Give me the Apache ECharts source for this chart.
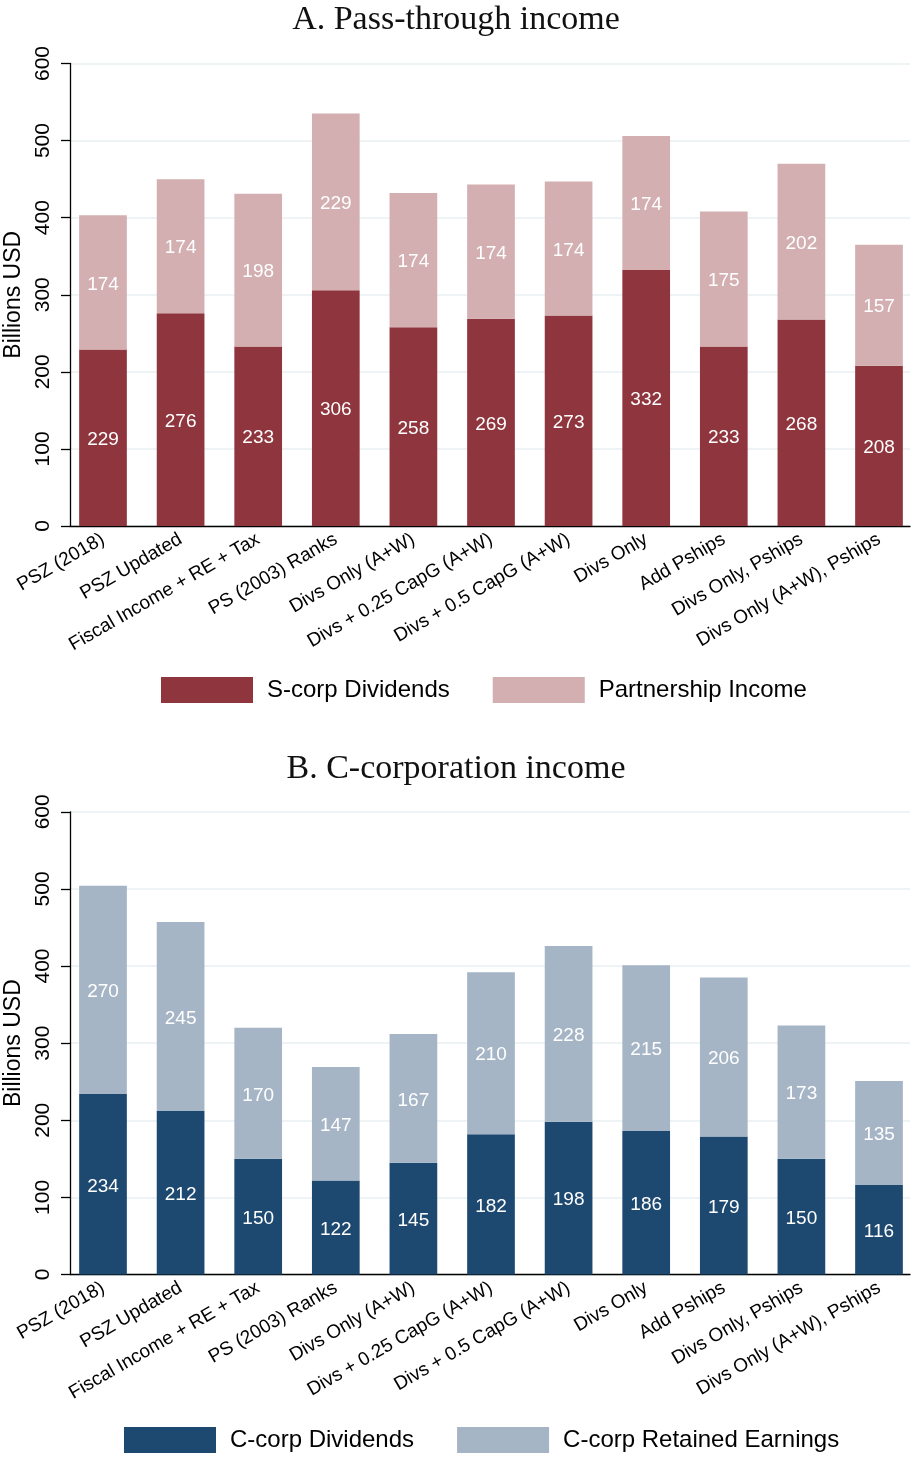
<!DOCTYPE html>
<html>
<head>
<meta charset="utf-8">
<script src="https://cdn.jsdelivr.net/npm/echarts@6/dist/echarts.min.js"></script>
<style>
  html, body { margin: 0; padding: 0; background: #fff; }
  #chart { width: 912px; height: 1459px; }
</style>
</head>
<body>
<div id="chart"></div>
<script>
// Method labels shared by both panels
const categories = [
  'PSZ (2018)', 'PSZ Updated', 'Fiscal Income + RE + Tax', 'PS (2003) Ranks',
  'Divs Only (A+W)', 'Divs + 0.25 CapG (A+W)', 'Divs + 0.5 CapG (A+W)',
  'Divs Only', 'Add Pships', 'Divs Only, Pships', 'Divs Only (A+W), Pships'
];

// Panel A: pass-through income (billions USD)
const sCorpDividends = [229, 276, 233, 306, 258, 269, 273, 332, 233, 268, 208];
const partnershipIncome = [174, 174, 198, 229, 174, 174, 174, 174, 175, 202, 157];

// Panel B: C-corporation income (billions USD)
const cCorpDividends = [234, 212, 150, 122, 145, 182, 198, 186, 179, 150, 116];
const cCorpRetained = [270, 245, 170, 147, 167, 210, 228, 215, 206, 173, 135];

const yTicks = [0, 100, 200, 300, 400, 500, 600];

const SANS = 'Liberation Sans, Arial, Helvetica, sans-serif';
const SERIF = 'Liberation Serif, Times New Roman, serif';

const panels = [
  { top: 63.5, height: 462.5 },
  { top: 811.8, height: 462.7 }
];

const grids = [];
const xAxes = [];
const yAxes = [];
panels.forEach(p => {
  // axis frame grid (y axis, gridlines, baseline)
  grids.push({ left: 70, width: 840, top: p.top, height: p.height, outerBoundsMode: 'none', containLabel: false });
  // bar grid (category slots)
  grids.push({ left: 64.2, width: 853.6, top: p.top, height: p.height, outerBoundsMode: 'none', containLabel: false });
});

for (let k = 0; k < 2; k++) {
  const gFrame = k * 2, gBars = k * 2 + 1;
  xAxes.push({
    gridIndex: gFrame, type: 'category', data: categories,
    axisLine: { show: true, lineStyle: { color: '#000', width: 1.3 } },
    axisTick: { show: false }, axisLabel: { show: false }, splitLine: { show: false }
  });
  xAxes.push({
    gridIndex: gBars, type: 'category', data: categories,
    axisLine: { show: false }, axisTick: { show: false },
    axisLabel: {
      rotate: 30, interval: 0, margin: 12,
      fontFamily: SANS, fontSize: 19, color: '#000'
    }
  });
  yAxes.push({
    gridIndex: gFrame, type: 'value', min: yTicks[0], max: yTicks[yTicks.length - 1], interval: 100,
    name: 'Billions USD', nameLocation: 'middle', nameGap: 41, nameRotate: 90,
    nameTextStyle: { fontFamily: SANS, fontSize: 23, color: '#000' },
    axisLine: { show: true, lineStyle: { color: '#000', width: 1.3 } },
    axisTick: { show: true, length: 9, lineStyle: { color: '#000', width: 1.3 } },
    axisLabel: { rotate: 90, margin: 16, fontFamily: SANS, fontSize: 21, color: '#000' },
    splitLine: { show: true, lineStyle: { color: '#e8f0f2', width: 1.5 } }
  });
  yAxes.push({
    gridIndex: gBars, type: 'value', min: 0, max: 600, show: false,
    splitLine: { show: false }
  });
}

function barSeries(name, data, color, axisIdx, stack) {
  return {
    name, type: 'bar', stack, data,
    xAxisIndex: axisIdx, yAxisIndex: axisIdx,
    barWidth: 47.7,
    itemStyle: { color },
    label: {
      show: true, position: 'inside', color: '#fff',
      fontFamily: SANS, fontSize: 19, offset: [0, 2]
    },
    z: 3
  };
}

const legendBase = {
  orient: 'horizontal', icon: 'rect', padding: 0,
  itemWidth: 92, itemHeight: 26, itemGap: 43,
  textStyle: { fontFamily: SANS, fontSize: 24, color: '#000', padding: [2, 0, 0, 9] }
};

const option = {
  backgroundColor: '#fff',
  animation: false,
  title: [
    { text: 'A. Pass-through income', left: 'center', top: -2,
      textStyle: { fontFamily: SERIF, fontWeight: 'normal', fontSize: 34, color: '#111' } },
    { text: 'B. C-corporation income', left: 'center', top: 747,
      textStyle: { fontFamily: SERIF, fontWeight: 'normal', fontSize: 34, color: '#111' } }
  ],
  legend: [
    Object.assign({}, legendBase, { left: 161, top: 677, data: ['S-corp Dividends', 'Partnership Income'] }),
    Object.assign({}, legendBase, { left: 124, top: 1427, data: ['C-corp Dividends', 'C-corp Retained Earnings'] })
  ],
  grid: grids,
  xAxis: xAxes,
  yAxis: yAxes,
  series: [
    barSeries('S-corp Dividends', sCorpDividends, '#8f353d', 1, 'pass'),
    barSeries('Partnership Income', partnershipIncome, '#d3afb1', 1, 'pass'),
    barSeries('C-corp Dividends', cCorpDividends, '#1d4870', 3, 'ccorp'),
    barSeries('C-corp Retained Earnings', cCorpRetained, '#a5b5c6', 3, 'ccorp')
  ]
};

const chart = echarts.init(document.getElementById('chart'), null, { renderer: 'canvas' });
chart.setOption(option);
</script>
</body>
</html>
